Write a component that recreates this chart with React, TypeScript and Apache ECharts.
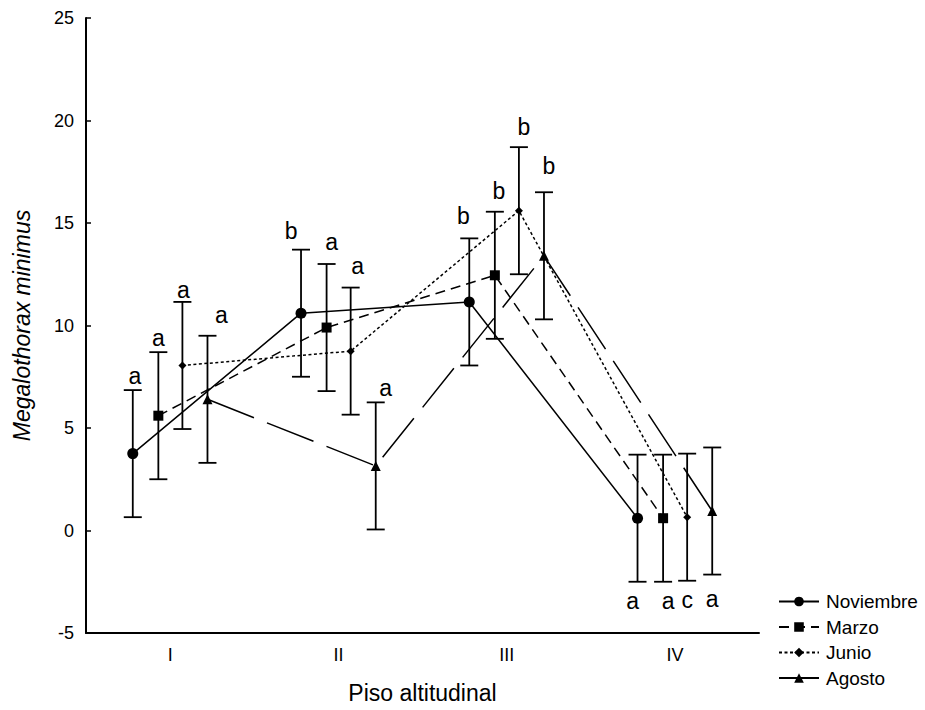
import React, { useEffect, useRef } from 'react';
import * as echarts from 'echarts';

// ---- Data ----
const categories = ['I', 'II', 'III', 'IV'];
const months = ['Noviembre', 'Marzo', 'Junio', 'Agosto'];

const noviembre = [3.75, 10.6, 11.15, 0.6];
const marzo = [5.6, 9.9, 12.45, 0.6];
const junio = [8.05, 8.75, 15.6, 0.65];
const agosto = [6.4, 3.15, 13.4, 0.95];

const noviembreErr = [3.1, 3.1, 3.1, 3.1];
const marzoErr = [3.1, 3.1, 3.1, 3.1];
const junioErr = [3.1, 3.1, 3.1, 3.1];
const agostoErr = [3.1, 3.1, 3.1, 3.1];

const noviembreLetters = ['a', 'b', 'b', 'a'];
const marzoLetters = ['a', 'a', 'b', 'a'];
const junioLetters = ['a', 'a', 'b', 'c'];
const agostoLetters = ['a', 'a', 'b', 'a'];

const yMin = -5;
const yMax = 25;
const yStep = 5;

// ---- Styles ----
const FONT = "'Liberation Sans', Arial, Helvetica, sans-serif";
const SERIES_STYLE = [
  { symbol: 'circle', symbolSize: 11, lineType: 'solid' as any, offset: -0.222 },
  { symbol: 'rect', symbolSize: 10, lineType: [10, 6] as any, offset: -0.07 },
  { symbol: 'diamond', symbolSize: 8, lineType: [3, 2.5] as any, offset: 0.073 },
  { symbol: 'triangle', symbolSize: 10, lineType: [50, 14] as any, offset: 0.222 },
];
// letter label nudges [dx, dy] relative to cap (top cap for I-III, bottom cap for IV)
const LABEL_NUDGE = [
  [[2, -14], [-10, -19], [-6, -22], [-5, 19]],
  [[0, -14], [5, -22], [4, -21], [5, 19]],
  [[1, -12], [7, -22], [5, -20], [0, 19]],
  [[14, -21], [10, -14], [5, -26], [0, 24]],
];

const seriesValues = [noviembre, marzo, junio, agosto];
const seriesErrs = [noviembreErr, marzoErr, junioErr, agostoErr];
const seriesLetters = [noviembreLetters, marzoLetters, junioLetters, agostoLetters];

function buildOption() {
  const series: any[] = [];
  months.forEach((name, si) => {
    const st = SERIES_STYLE[si];
    const vals = seriesValues[si];
    const errs = seriesErrs[si];
    const letters = seriesLetters[si];
    const nudges = LABEL_NUDGE[si];
    const xs = categories.map((_, ci) => ci + 0.5 + st.offset);
    series.push({
      name: name + '-err',
      type: 'custom',
      xAxisIndex: 1,
      yAxisIndex: 0,
      z: 1,
      clip: false,
      silent: true,
      encode: { x: 0, y: [1, 2] },
      data: vals.map((v, i) => [xs[i], v - errs[i], v + errs[i]]),
      renderItem: (params: any, api: any) => {
        const x = api.value(0);
        const lo = api.value(1);
        const hi = api.value(2);
        const pTop = api.coord([x, hi]);
        const pBot = api.coord([x, lo]);
        const half = 9;
        const idx = params.dataIndex;
        const below = idx === 3;
        const [dx, dy] = nudges[idx];
        const anchor = below ? pBot : pTop;
        const ls = { stroke: '#000', lineWidth: 1.8 };
        return {
          type: 'group',
          children: [
            { type: 'line', shape: { x1: pTop[0], y1: pTop[1], x2: pBot[0], y2: pBot[1] }, style: ls },
            { type: 'line', shape: { x1: pTop[0] - half, y1: pTop[1], x2: pTop[0] + half, y2: pTop[1] }, style: ls },
            { type: 'line', shape: { x1: pBot[0] - half, y1: pBot[1], x2: pBot[0] + half, y2: pBot[1] }, style: ls },
            {
              type: 'text',
              x: anchor[0] + dx,
              y: anchor[1] + dy,
              style: {
                text: letters[idx],
                fill: '#000',
                fontSize: 23,
                fontFamily: FONT,
                align: 'center',
                verticalAlign: 'middle',
              },
            },
          ],
        };
      },
    });
  });
  months.forEach((name, si) => {
    const st = SERIES_STYLE[si];
    const vals = seriesValues[si];
    series.push({
      name,
      type: 'line',
      xAxisIndex: 1,
      yAxisIndex: 0,
      z: 3,
      symbol: st.symbol,
      symbolSize: st.symbolSize,
      showSymbol: true,
      itemStyle: { color: '#000' },
      lineStyle: { color: '#000', width: 1.5, type: st.lineType },
      data: vals.map((v, ci) => [ci + 0.5 + st.offset, v]),
    });
  });

  return {
    animation: false,
    backgroundColor: '#fff',
    textStyle: { fontFamily: FONT, color: '#000' },
    grid: { left: 86, right: 166, top: 18, bottom: 77, containLabel: false },
    legend: {
      data: months,
      orient: 'vertical',
      left: 778,
      top: 592,
      padding: 0,
      itemWidth: 40,
      itemHeight: 12,
      itemGap: 6.5,
      textStyle: { fontSize: 19, color: '#000', fontFamily: FONT, lineHeight: 19, padding: [0, 0, 0, 2] },
      selectedMode: false,
    },
    xAxis: [
      {
        type: 'category',
        data: categories,
        boundaryGap: true,
        axisLine: { onZero: false, lineStyle: { color: '#000', width: 2 } },
        axisTick: { inside: true, alignWithLabel: true, length: 5, lineStyle: { color: '#000', width: 1.5 } },
        axisLabel: { color: '#000', fontSize: 18, fontFamily: FONT, margin: 13 },
        name: 'Piso altitudinal',
        nameLocation: 'middle',
        nameGap: 48,
        nameTextStyle: { fontSize: 23, color: '#000', fontFamily: FONT },
        splitLine: { show: false },
      },
      {
        type: 'value',
        min: 0,
        max: 4,
        show: false,
        splitLine: { show: false },
      },
    ],
    yAxis: {
      type: 'value',
      min: yMin,
      max: yMax,
      interval: yStep,
      axisLine: { show: true, onZero: false, lineStyle: { color: '#000', width: 2 } },
      axisTick: { show: true, inside: true, length: 5, lineStyle: { color: '#000', width: 1.5 } },
      axisLabel: { color: '#000', fontSize: 18, fontFamily: FONT, margin: 12 },
      splitLine: { show: false },
      name: 'Megalothorax minimus',
      nameLocation: 'middle',
      nameGap: 53,
      nameTextStyle: { fontSize: 23, fontStyle: 'italic', color: '#000', fontFamily: FONT },
    },
    series,
  };
}

export default function App() {
  const ref = useRef<HTMLDivElement>(null);
  useEffect(() => {
    if (!ref.current) return;
    const chart = echarts.init(ref.current, undefined, { renderer: 'svg' });
    chart.setOption(buildOption() as any);
    return () => chart.dispose();
  }, []);
  return (
    <div
      ref={ref}
      style={{ position: 'absolute', left: 0, top: 0, width: 925, height: 710, background: '#fff' }}
    />
  );
}
